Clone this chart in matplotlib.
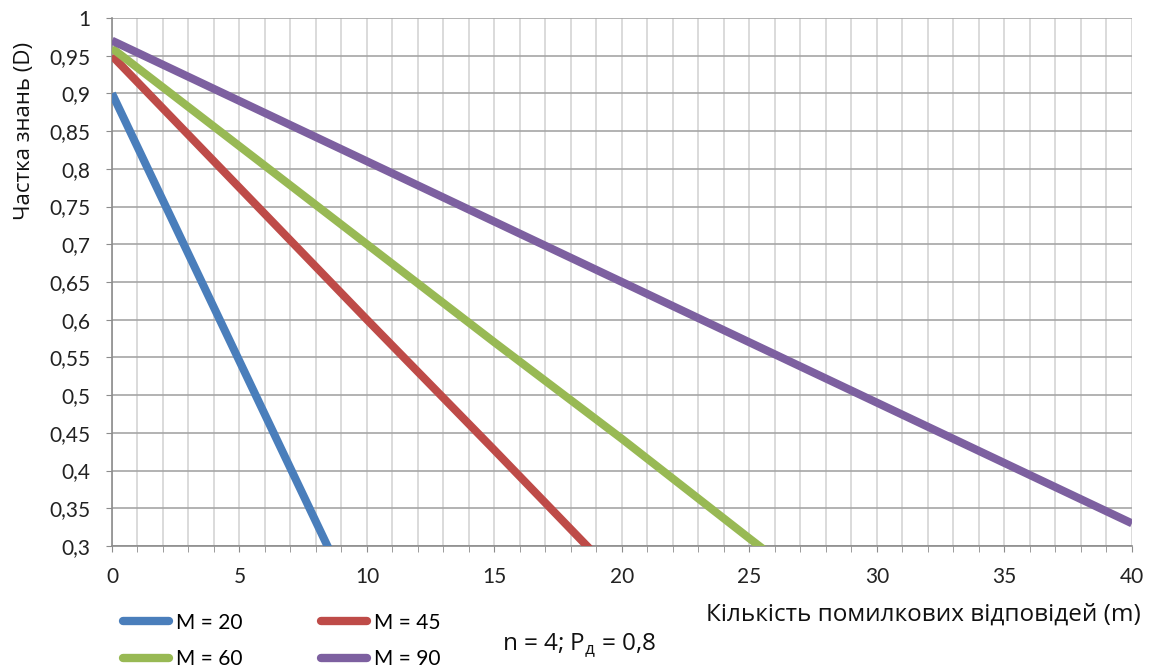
import numpy as np
import matplotlib.pyplot as plt
from matplotlib.ticker import MultipleLocator, FuncFormatter

plt.rcParams['font.family'] = ['Lato', 'DejaVu Sans']
plt.rcParams['mathtext.fontset'] = 'custom'
plt.rcParams['mathtext.rm'] = 'Open Sans'

# m values (number of wrong answers) and share of knowledge D for each M
m = [0, 5, 10, 15, 20, 25, 30, 35, 40]
d_m20 = [0.90, 0.545, 0.19]
d_m45 = [0.95, 0.775, 0.600, 0.427, 0.252]
d_m60 = [0.96, 0.830, 0.700, 0.570, 0.442, 0.31, 0.18]
d_m90 = [0.97, 0.890, 0.810, 0.730, 0.650, 0.570, 0.490, 0.410, 0.330]

series = [
    ("M = 20", d_m20, "#4a7ebb"),
    ("M = 45", d_m45, "#be4b48"),
    ("M = 60", d_m60, "#98b954"),
    ("M = 90", d_m90, "#7d60a0"),
]

fig = plt.figure(figsize=(11.52, 6.71), dpi=100)
ax = fig.add_axes([0.0972, 0.1863, 0.8854, 0.7869])

for label, vals, color in series:
    ax.plot(m[:len(vals)], vals, color=color, lw=5.8, label=label,
            solid_capstyle="butt", zorder=3)

ax.set_xlim(0, 40)
ax.set_ylim(0.3, 1.0)
ax.xaxis.set_major_locator(MultipleLocator(5))
ax.xaxis.set_minor_locator(MultipleLocator(1))
ax.yaxis.set_major_locator(MultipleLocator(0.05))
ax.yaxis.set_major_formatter(FuncFormatter(
    lambda v, p: f"{v:.2f}".rstrip("0").rstrip(".").replace(".", ",")))

ax.grid(True, axis="y", which="major", color="#a6a6a6", lw=1.2, zorder=1)
ax.grid(True, axis="x", which="both", color="#d4d4d4", lw=1.2, zorder=1)
ax.set_axisbelow(True)
for s in ["top", "right"]:
    ax.spines[s].set_visible(False)
for s in ["left", "bottom"]:
    ax.spines[s].set_color("#8c8c8c")
    ax.spines[s].set_linewidth(1.2)
ax.tick_params(axis="both", which="both", color="#8c8c8c", labelsize=15,
               labelcolor="#222222", length=4.3)
ax.tick_params(axis="x", which="major", pad=11)
ax.tick_params(axis="y", pad=11)

fig.text(0.021, 0.805, "Частка знань (D)", fontsize=16, family="Open Sans",
         rotation=90, ha="center", va="center", color="#111111")
fig.text(0.9905, 0.084, "Кількість помилкових відповідей (m)", fontsize=17.5,
         family="Open Sans", ha="right", va="center", color="#111111")
fig.text(0.4358, 0.0387, r"n = 4; P$_\mathregular{д}$ = 0,8", fontsize=17.5,
         family="Open Sans", ha="left", va="center", color="#111111")

handles, labels = ax.get_legend_handles_labels()
order = [0, 2, 1, 3]  # row-major: 20, 45 / 60, 90
leg = fig.legend([handles[i] for i in order], [labels[i] for i in order],
                 ncol=2, loc="upper left", bbox_to_anchor=(0.098, 0.1025),
                 frameon=False, fontsize=15, borderpad=0,
                 handlelength=2.2, handletextpad=0.35, columnspacing=3.75,
                 labelspacing=0.8)
for h in leg.legend_handles:
    h.set_solid_capstyle("round")
    h.set_linewidth(6)

fig.savefig("out.png", dpi=100)
